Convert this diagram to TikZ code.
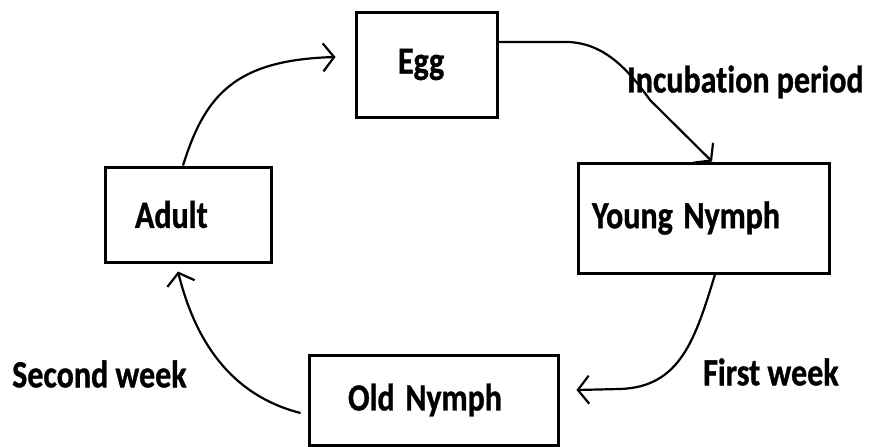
\documentclass[tikz,border=0pt]{standalone}
\usepackage{fontspec}
\usepackage{graphicx}
\newfontfamily\lblfont[Ligatures=NoCommon, BoldFeatures={FakeBold=1}]{Carlito}
\newcommand{\tall}[1]{\scalebox{1}[1.2]{#1}}
\usetikzlibrary{arrows.meta}
\tikzset{
  stagebox/.style={draw, line width=3pt, rectangle, align=left, anchor=center},
  lbl/.style={font=\lblfont\bfseries\fontsize{32}{35}\selectfont, inner sep=0pt},
  flow/.style={line width=2.2pt, -{Straight Barb[length=11pt,width=28pt,line width=2.2pt]}},
}
\begin{document}
\begin{tikzpicture}[x=1pt,y=-1pt]
\useasboundingbox (0,0) rectangle (870,447);
% boxes (centre, width, height)
\node[stagebox, lbl, inner xsep=42pt, text width=57pt, minimum height=105pt] (egg) at (426.5,64.5) {\tall{Egg}};
\node[stagebox, lbl, inner xsep=30pt, text width=106pt, minimum height=95pt] (adult) at (188,214.5) {\tall{Adult}};
\node[stagebox, lbl, inner xsep=14pt, text width=223pt, minimum height=110pt] (young) at (703.5,218) {\tall{Young Nymph}};
\node[stagebox, lbl, inner xsep=39pt, text width=171pt, minimum height=90pt] (old) at (433.5,400) {\tall{Old Nymph}};
% labels
\node[lbl, anchor=west] (incub) at (627,82) {\tall{Incubation period}};
\node[lbl, anchor=west] (second) at (12,374) {\tall{Second week}};
\node[lbl, anchor=west] (first) at (703,372) {\tall{First week}};
% connectors
\draw[flow] ([xshift=-5pt]adult.north) .. controls (205,95) and (235,60) .. ([yshift=7.5pt, xshift=-19pt]egg.west);
\draw[flow] ([yshift=22.5pt]egg.east) -- (560,42) .. controls (600,40) and (625,65) .. (650,100) -- ([xshift=8.5pt]young.north);
\draw[flow] ([xshift=11.5pt]young.south) .. controls (695,340) and (680,387) .. (620,389) -- ([yshift=10pt, xshift=17pt]old.east);
\draw[flow] ([yshift=-13pt, xshift=-7pt]old.west) .. controls (230,395) and (195,340) .. ([xshift=-10pt, yshift=-8pt]adult.south);
\end{tikzpicture}
\end{document}
